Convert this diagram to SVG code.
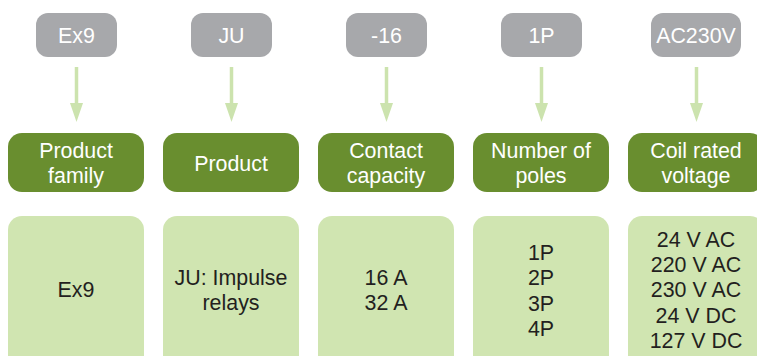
<svg xmlns="http://www.w3.org/2000/svg" width="757" height="356" viewBox="0 0 757 356">
<defs>
<style>
text{font-family:"Liberation Sans",Arial,sans-serif;font-size:21.4px;text-anchor:middle}
.code rect{fill:#a7a8ab}
.code text{fill:#ffffff}
.head rect{fill:#698e2f}
.head text{fill:#ffffff}
.val rect{fill:#d0e5b1}
.val text{fill:#231f20}
.conn line{stroke:#cce3ae;stroke-width:3.5}
.conn path{fill:#cce3ae}
</style>
</defs>
<rect width="757" height="356" fill="#ffffff"/>
<g id="code-ex9" class="code"><rect x="36" y="13" width="81" height="44" rx="12"/><text x="76.5" y="43">Ex9</text></g>
<g id="code-ju" class="code"><rect x="191" y="13" width="81" height="44" rx="12"/><text x="231.5" y="43">JU</text></g>
<g id="code-16" class="code"><rect x="346" y="13" width="81" height="44" rx="12"/><text x="386.5" y="43">-16</text></g>
<g id="code-1p" class="code"><rect x="501" y="13" width="81" height="44" rx="12"/><text x="541.5" y="43">1P</text></g>
<g id="code-ac230v" class="code"><rect x="651" y="13" width="90" height="44" rx="12"/><text x="696" y="43">AC230V</text></g>
<g id="connectors" class="conn">
<line x1="76.5" y1="67" x2="76.5" y2="105"/><path d="M70 103 L83 103 L76.5 122 Z"/>
<line x1="231.5" y1="67" x2="231.5" y2="105"/><path d="M225 103 L238 103 L231.5 122 Z"/>
<line x1="386.5" y1="67" x2="386.5" y2="105"/><path d="M380 103 L393 103 L386.5 122 Z"/>
<line x1="541.5" y1="67" x2="541.5" y2="105"/><path d="M535 103 L548 103 L541.5 122 Z"/>
<line x1="696.5" y1="67" x2="696.5" y2="105"/><path d="M690 103 L703 103 L696.5 122 Z"/>
</g>
<g id="head-family" class="head"><rect x="8" y="133" width="136" height="59" rx="14"/><text x="76" y="158">Product</text><text x="76" y="183">family</text></g>
<g id="head-product" class="head"><rect x="163" y="133" width="136" height="59" rx="14"/><text x="231" y="171">Product</text></g>
<g id="head-contact" class="head"><rect x="318" y="133" width="136" height="59" rx="14"/><text x="386" y="158">Contact</text><text x="386" y="183">capacity</text></g>
<g id="head-poles" class="head"><rect x="473" y="133" width="136" height="59" rx="14"/><text x="541" y="158">Number of</text><text x="541" y="183">poles</text></g>
<g id="head-coil" class="head"><rect x="628" y="133" width="136" height="59" rx="14"/><text x="696" y="158">Coil rated</text><text x="696" y="183">voltage</text></g>
<g id="val-family" class="val"><rect x="8" y="216" width="136" height="160" rx="14"/><text x="76" y="297">Ex9</text></g>
<g id="val-product" class="val"><rect x="163" y="216" width="136" height="160" rx="14"/><text x="231" y="285">JU: Impulse</text><text x="231" y="310">relays</text></g>
<g id="val-contact" class="val"><rect x="318" y="216" width="136" height="160" rx="14"/><text x="386" y="285">16 A</text><text x="386" y="310">32 A</text></g>
<g id="val-poles" class="val"><rect x="473" y="216" width="136" height="160" rx="14"/><text x="541" y="260">1P</text><text x="541" y="285">2P</text><text x="541" y="311">3P</text><text x="541" y="336">4P</text></g>
<g id="val-coil" class="val"><rect x="628" y="216" width="136" height="160" rx="14"/><text x="696" y="247">24 V AC</text><text x="696" y="272">220 V AC</text><text x="696" y="297">230 V AC</text><text x="696" y="323">24 V DC</text><text x="696" y="348">127 V DC</text></g>
</svg>
